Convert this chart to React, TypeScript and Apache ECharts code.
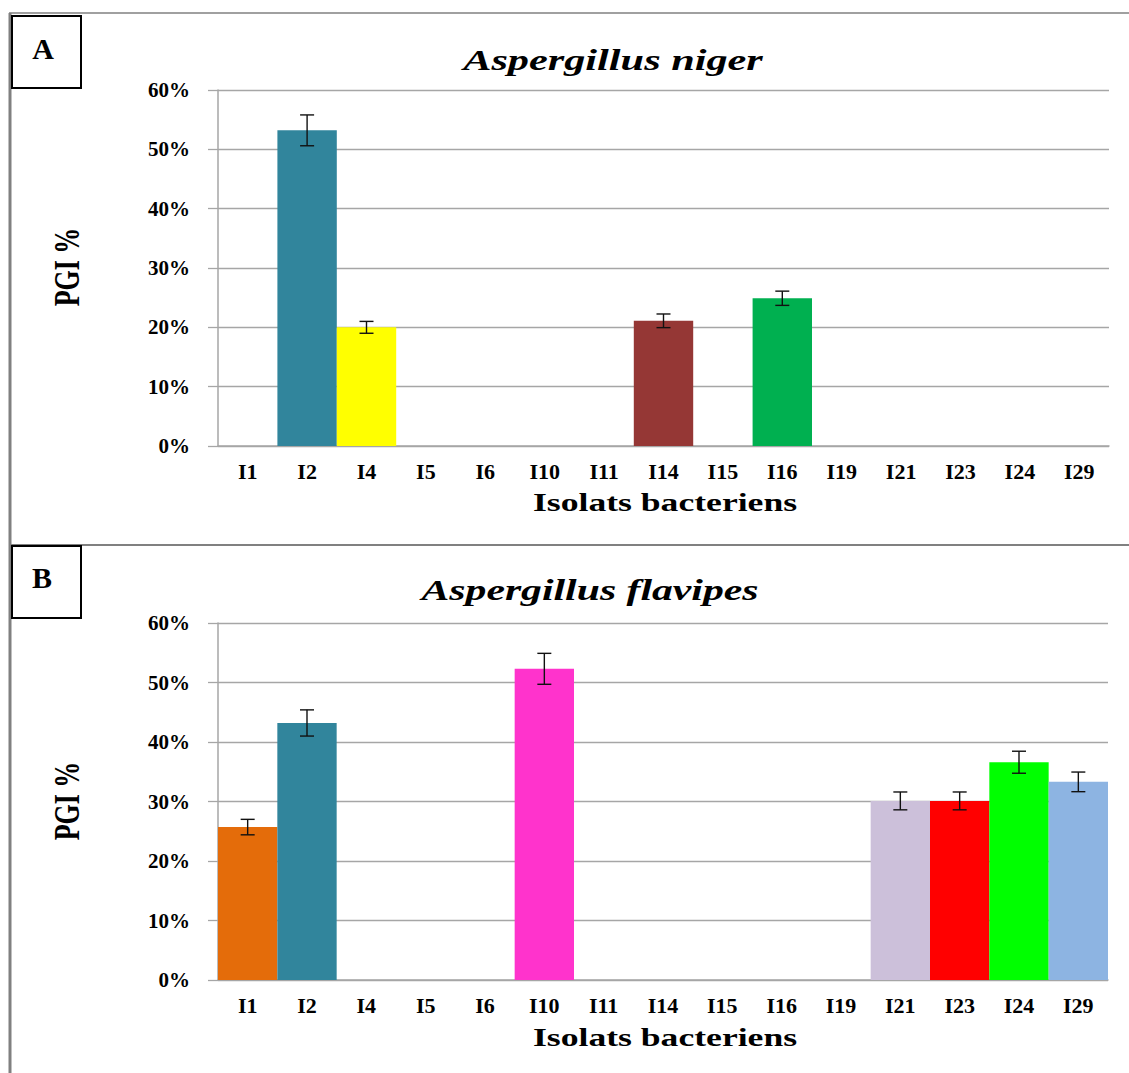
import React, { useEffect, useRef } from "react";
import * as echarts from "echarts";

const categories = ["I1", "I2", "I4", "I5", "I6", "I10", "I11", "I14", "I15", "I16", "I19", "I21", "I23", "I24", "I29"];

const nigerValues = [0, 53.2, 20.0, 0, 0, 0, 0, 21.1, 0, 24.9, 0, 0, 0, 0, 0];
const nigerErrors = [null, 2.6, 1.0, null, null, null, null, 1.15, null, 1.2, null, null, null, null, null];
const nigerColors = [null, "#31859C", "#FFFF00", null, null, null, null, "#953735", null, "#00B050", null, null, null, null, null];

const flavipesValues = [25.7, 43.2, 0, 0, 0, 52.3, 0, 0, 0, 0, 0, 30.1, 30.1, 36.6, 33.3];
const flavipesErrors = [1.3, 2.2, null, null, null, 2.6, null, null, null, null, null, 1.5, 1.5, 1.85, 1.65];
const flavipesColors = ["#E46C0A", "#31859C", null, null, null, "#FF33CC", null, null, null, null, null, "#CCC0DA", "#FF0000", "#00FF00", "#8DB4E2"];

const yTicks = { min: 0, max: 60, interval: 10 };

const FONT = '"Liberation Serif", "Times New Roman", serif';

function barData(values: number[], colors: (string | null)[]) {
  return values.map((v, i) => ({ value: v, itemStyle: { color: colors[i] || "transparent" } }));
}

function errData(values: number[], errors: (number | null)[]) {
  const out: number[][] = [];
  values.forEach((v, i) => {
    const e = errors[i];
    if (e != null) out.push([i, v, e]);
  });
  return out;
}

const renderError = (params: any, api: any) => {
  const idx = api.value(0);
  const v = api.value(1);
  const e = api.value(2);
  const top = api.coord([idx, v + e]);
  const bot = api.coord([idx, v - e]);
  const hw = 7;
  const st = { stroke: "#111", lineWidth: 1.4 };
  return {
    type: "group",
    children: [
      { type: "line", shape: { x1: top[0], y1: top[1], x2: bot[0], y2: bot[1] }, style: st },
      { type: "line", shape: { x1: top[0] - hw, y1: top[1], x2: top[0] + hw, y2: top[1] }, style: st },
      { type: "line", shape: { x1: bot[0] - hw, y1: bot[1], x2: bot[0] + hw, y2: bot[1] }, style: st },
    ],
  };
};

function txt(text: string, x: number, y: number, font: string, extra: any = {}) {
  return {
    type: "text",
    x,
    y,
    ...extra,
    style: {
      text,
      font,
      fill: "#000",
      textAlign: "center",
      textVerticalAlign: "middle",
      align: "center",
      verticalAlign: "middle",
    },
  };
}

export default function App() {
  const ref = useRef<HTMLDivElement>(null);
  useEffect(() => {
    if (!ref.current) return;
    const chart = echarts.init(ref.current, null, { renderer: "svg" });

    const xAxisBase = (gridIndex: number) => ({
      type: "category",
      gridIndex,
      data: categories,
      axisLine: { show: true, lineStyle: { color: "#A6A6A6", width: 1.5 } },
      axisTick: { show: false },
      axisLabel: { interval: 0, margin: 14, color: "#000", fontFamily: FONT, fontWeight: "bold", fontSize: 22 },
    });
    const yAxisBase = (gridIndex: number) => ({
      type: "value",
      gridIndex,
      min: yTicks.min,
      max: yTicks.max,
      interval: yTicks.interval,
      axisLine: { show: true, lineStyle: { color: "#A6A6A6", width: 1.5 } },
      axisTick: { show: true, length: 10, lineStyle: { color: "#A6A6A6", width: 1.3 } },
      splitLine: { show: true, lineStyle: { color: "#A6A6A6", width: 1.3 } },
      axisLabel: { margin: 28, color: "#000", fontFamily: FONT, fontWeight: "bold", fontSize: 21, formatter: "{value}%" },
    });

    const option: any = {
      animation: false,
      backgroundColor: "#fff",
      grid: [
        { left: 218, top: 90, width: 891, height: 356 },
        { left: 218, top: 623, width: 890, height: 357 },
      ],
      xAxis: [xAxisBase(0), xAxisBase(1)],
      yAxis: [yAxisBase(0), yAxisBase(1)],
      series: [
        {
          type: "bar",
          xAxisIndex: 0,
          yAxisIndex: 0,
          barCategoryGap: "0%",
          data: barData(nigerValues, nigerColors),
        },
        {
          type: "custom",
          xAxisIndex: 0,
          yAxisIndex: 0,
          z: 5,
          renderItem: renderError,
          encode: { x: 0, y: 1 },
          data: errData(nigerValues, nigerErrors),
        },
        {
          type: "bar",
          xAxisIndex: 1,
          yAxisIndex: 1,
          barCategoryGap: "0%",
          data: barData(flavipesValues, flavipesColors),
        },
        {
          type: "custom",
          xAxisIndex: 1,
          yAxisIndex: 1,
          z: 5,
          renderItem: renderError,
          encode: { x: 0, y: 1 },
          data: errData(flavipesValues, flavipesErrors),
        },
      ],
      graphic: [
        { type: "line", shape: { x1: 9, y1: 13, x2: 1129, y2: 13 }, style: { stroke: "#808080", lineWidth: 1.5 } },
        { type: "line", shape: { x1: 10, y1: 13, x2: 10, y2: 1073 }, style: { stroke: "#808080", lineWidth: 3 } },
        { type: "line", shape: { x1: 10, y1: 545, x2: 1129, y2: 545 }, style: { stroke: "#808080", lineWidth: 2 } },
        { type: "rect", shape: { x: 12, y: 16, width: 69, height: 72 }, style: { fill: "#fff", stroke: "#000", lineWidth: 2 } },
        { type: "rect", shape: { x: 12, y: 546, width: 69, height: 72 }, style: { fill: "#fff", stroke: "#000", lineWidth: 2 } },
        txt("A", 43, 48, `bold 30px ${FONT}`),
        txt("B", 42, 577, `bold 30px ${FONT}`),
        txt("Aspergillus niger", 613, 60, `italic bold 30px ${FONT}`, { scaleX: 1.41 }),
        txt("Aspergillus flavipes", 590, 590, `italic bold 30px ${FONT}`, { scaleX: 1.39 }),
        txt("Isolats bacteriens", 665, 502, `bold 26px ${FONT}`, { scaleX: 1.37 }),
        txt("Isolats bacteriens", 665, 1037, `bold 26px ${FONT}`, { scaleX: 1.37 }),
        txt("PGI %", 67, 267, `bold 26px ${FONT}`, { rotation: Math.PI / 2, scaleY: 1.4 }),
        txt("PGI %", 67, 801, `bold 26px ${FONT}`, { rotation: Math.PI / 2, scaleY: 1.4 }),
      ],
    };
    chart.setOption(option);
    return () => chart.dispose();
  }, []);

  return <div ref={ref} style={{ position: "absolute", left: 0, top: 0, width: 1129, height: 1073, background: "#fff" }} />;
}
